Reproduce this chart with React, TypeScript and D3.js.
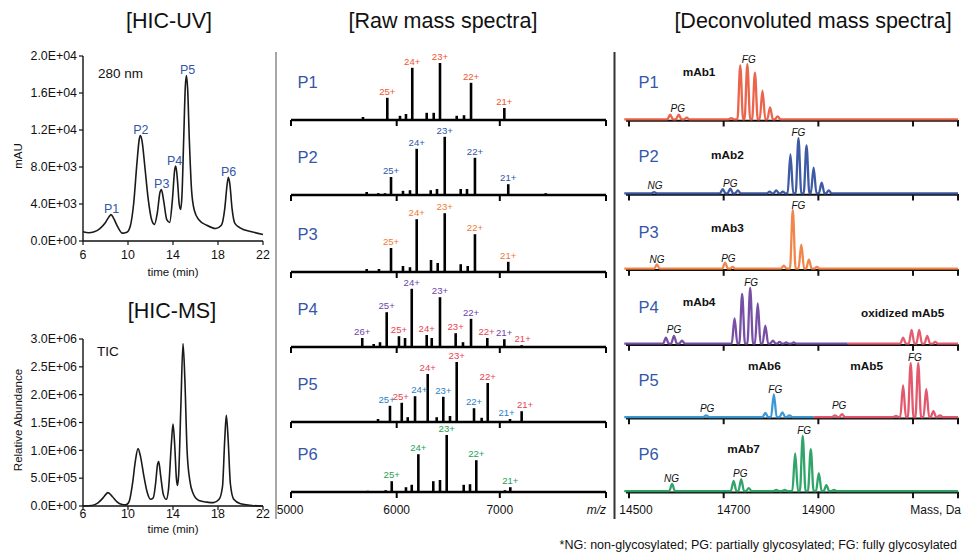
import React from 'react';
import * as d3 from 'd3';

const FONT = '"Liberation Sans", Arial, Helvetica, sans-serif';
const PBLUE = '#3556a8';

// ---------- HIC-UV chromatogram: [time (min), mAU]
const uvTrace: [number, number][] = [
  [6, 1000], [6.5, 900], [7, 1000], [7.5, 1350], [8, 2000], [8.3, 2600], [8.5, 2850], [8.7, 2500], [9.1, 1500],
  [9.5, 850], [9.9, 950], [10.2, 1600], [10.5, 4000], [10.8, 8500], [11.0, 11000], [11.1, 11400], [11.25, 10800],
  [11.5, 8000], [11.8, 4500], [12.1, 2300], [12.35, 1800], [12.6, 3000], [12.85, 5300], [12.97, 5550], [13.15, 4500],
  [13.45, 2300], [13.7, 2000], [13.95, 4500], [14.15, 7700], [14.25, 8100], [14.4, 6500], [14.55, 4000], [14.68, 3400],
  [14.8, 5000], [14.95, 11000], [15.1, 16800], [15.19, 17900], [15.3, 16500], [15.45, 11000], [15.65, 5500],
  [15.9, 3300], [16.3, 2300], [17, 1700], [17.8, 1350], [18.3, 1700], [18.6, 3500], [18.8, 6000], [18.92, 6900],
  [19.05, 6200], [19.25, 3500], [19.5, 1900], [20, 1400], [21, 1000], [22, 700],
];
const uvPeakLabels: [number, number, string][] = [
  [8.55, 2850, 'P1'], [11.15, 11400, 'P2'], [13.0, 5550, 'P3'], [14.15, 8100, 'P4'], [15.3, 17900, 'P5'], [18.95, 6900, 'P6'],
];
const uvTicks = [0, 4000, 8000, 12000, 16000, 20000];

// ---------- HIC-MS TIC: [time (min), abundance in millions]
const ticTrace: [number, number][] = [
  [6, 0], [6.8, 0.01], [7.3, 0.05], [7.8, 0.15], [8.22, 0.24], [8.6, 0.17], [9.0, 0.08], [9.4, 0.03], [9.8, 0.02],
  [10.1, 0.08], [10.4, 0.4], [10.65, 0.8], [10.89, 1.03], [11.1, 0.9], [11.4, 0.55], [11.7, 0.25], [12.0, 0.12],
  [12.25, 0.15], [12.45, 0.4], [12.62, 0.74], [12.73, 0.8], [12.9, 0.55], [13.15, 0.2], [13.4, 0.12], [13.6, 0.3],
  [13.85, 1.1], [14.0, 1.47], [14.15, 1.1], [14.3, 0.5], [14.39, 0.37], [14.5, 0.55], [14.7, 1.8], [14.89, 2.92],
  [15.05, 2.3], [15.25, 1.0], [15.5, 0.45], [15.8, 0.22], [16.3, 0.1], [17, 0.07], [17.6, 0.06], [18.1, 0.12],
  [18.4, 0.35], [18.6, 1.2], [18.74, 1.63], [18.9, 1.2], [19.1, 0.4], [19.4, 0.12], [20, 0.04], [21, 0.01], [22, 0],
];
const ticTicks = [0, 0.5, 1, 1.5, 2, 2.5, 3];
const timeTicks = [6, 10, 14, 18, 22];

// ---------- Raw mass spectra: [m/z, relative intensity, charge label, label group]
type Stick = [number, number, string?, number?];
const rawP1: Stick[] = [[5673, 5], [5909, 37, '25+', 0], [6032, 7], [6090, 10], [6151, 87, '24+', 0], [6291, 12], [6359, 12],
  [6420, 95, '23+', 0], [6582, 7], [6653, 8], [6721, 62, '22+', 0], [7044, 20, '21+', 0]];
const rawP2: Stick[] = [[5709, 5], [5822, 3], [5887, 3], [5945, 30, '25+', 0], [6061, 7], [6129, 8], [6194, 77, '24+', 0],
  [6330, 8], [6391, 10], [6466, 97, '23+', 0], [6621, 10], [6682, 10], [6759, 62, '22+', 0], [7082, 18, '21+', 0], [7445, 3]];
const rawP3: Stick[] = [[5709, 5], [5828, 5], [5945, 40, '25+', 0], [6061, 10], [6129, 8], [6194, 88, '24+', 0], [6333, 20],
  [6398, 15], [6466, 98, '23+', 0], [6621, 13], [6689, 10], [6759, 63, '22+', 0], [7082, 17, '21+', 0]];
const rawP4: Stick[] = [[5666, 15, '26+', 0], [5777, 5], [5838, 8], [5903, 58, '25+', 0], [6022, 18, '25+', 1], [6081, 15],
  [6146, 97, '24+', 0], [6291, 20, '24+', 1], [6340, 15], [6420, 83, '23+', 0], [6572, 23, '23+', 1], [6643, 8],
  [6721, 47, '22+', 0], [6879, 15, '22+', 1], [7044, 13, '21+', 0], [7212, 3, '21+', 1]];
const rawP5: Stick[] = [[5819, 5], [5935, 27, '25+', 0], [6049, 32, '25+', 1], [6107, 8], [6178, 43, '24+', 0],
  [6301, 80, '24+', 1], [6388, 8], [6452, 42, '23+', 0], [6517, 10], [6582, 100, '23+', 1], [6750, 23, '22+', 0],
  [6824, 7], [6883, 65, '22+', 1], [7099, 5, '21+', 0], [7212, 18, '21+', 1]];
const rawP6: Stick[] = [[5719, 2], [5893, 3], [5952, 18, '25+', 0], [6090, 8], [6146, 12], [6210, 63, '24+', 0], [6355, 18],
  [6420, 20], [6485, 95, '23+', 0], [6650, 12], [6711, 13], [6772, 53, '22+', 0], [7050, 3], [7102, 8, '21+', 0]];
const rawRows = [rawP1, rawP2, rawP3, rawP4, rawP5, rawP6];
const rawLabelColors = [['#f0552d'], ['#2f55a8'], ['#f07a35'], ['#6b45a6', '#e8434f'], ['#2a80c8', '#e8434f'], ['#1ea055']];
const mzTicks = [5000, 6000, 7000];
const rowNames = ['P1', 'P2', 'P3', 'P4', 'P5', 'P6'];

// ---------- Deconvoluted spectra: [mass (Da), relative intensity]
const decP1: [number, number][] = [[14587, 8], [14605, 8], [14622, 3], [14716, 2], [14735, 90], [14750, 92], [14766, 78],
  [14782, 48], [14798, 20], [14814, 5]];
const decP2: [number, number][] = [[14553, 2], [14698, 7], [14714, 8], [14730, 5], [14797, 3], [14811, 5], [14825, 3],
  [14841, 65], [14858, 92], [14875, 80], [14890, 43], [14907, 18], [14922, 5]];
const decP3: [number, number][] = [[14559, 7], [14703, 10], [14719, 3], [14827, 5], [14846, 98], [14864, 40], [14880, 15], [14897, 3]];
const decP4a: [number, number][] = [[14578, 10], [14595, 13], [14612, 5], [14723, 42], [14739, 83], [14756, 93], [14772, 67],
  [14788, 30], [14804, 5], [14818, 3], [14832, 2], [14848, 2]];
const decP4b: [number, number][] = [[15079, 10], [15097, 23], [15113, 23], [15130, 13], [15147, 3]];
const decP5a: [number, number][] = [[14663, 3], [14788, 7], [14806, 38], [14824, 8], [14839, 3]];
const decP5b: [number, number][] = [[14935, 3], [14950, 5], [15064, 2], [15079, 53], [15095, 90], [15111, 90], [15128, 47],
  [15143, 10], [15157, 3]];
const decP6: [number, number][] = [[14591, 12], [14721, 17], [14737, 20], [14753, 5], [14811, 2], [14829, 2], [14851, 63],
  [14867, 92], [14884, 70], [14901, 30], [14917, 10], [14933, 2]];
const massTicks = [14500, 14700, 14900, 15100];
const massTickLabels = [14500, 14700, 14900];
// segments: peaks, colour, mass where the colour ends
const decRows: { peaks: [number, number][]; color: string; end: number }[][] = [
  [{ peaks: decP1, color: '#e9573c', end: 15195 }],
  [{ peaks: decP2, color: '#2e4c9c', end: 15195 }],
  [{ peaks: decP3, color: '#f07c3c', end: 15195 }],
  [{ peaks: decP4a, color: '#6b419e', end: 14962 }, { peaks: decP4b, color: '#e05064', end: 15195 }],
  [{ peaks: decP5a, color: '#2a91d0', end: 14890 }, { peaks: decP5b, color: '#e04a60', end: 15195 }],
  [{ peaks: decP6, color: '#1f9c5c', end: 15195 }],
];
// annotations: row, text, mass, level (text centre), kind
const decNotes: [number, string, number, number, string][] = [
  [0, 'mAb1', 14648, 80, 'b'], [0, 'FG', 14753, 101, 'i'], [0, 'PG', 14603, 20, 'i'],
  [1, 'mAb2', 14708, 66, 'b'], [1, 'FG', 14858, 102, 'i'], [1, 'NG', 14555, 14, 'i'], [1, 'PG', 14714, 18, 'i'],
  [2, 'mAb3', 14708, 69, 'b'], [2, 'FG', 14858, 106, 'i'], [2, 'NG', 14559, 17, 'i'], [2, 'PG', 14710, 19, 'i'],
  [3, 'mAb4', 14648, 71, 'b'], [3, 'FG', 14758, 103, 'i'], [3, 'PG', 14595, 25, 'i'], [3, 'oxidized mAb5', 15078, 52, 'b'],
  [4, 'mAb6', 14786, 86, 'b'], [4, 'FG', 14809, 48, 'i'], [4, 'PG', 14665, 15, 'i'], [4, 'mAb5', 15002, 86, 'b'],
  [4, 'FG', 15104, 101, 'i'], [4, 'PG', 14944, 20, 'i'],
  [5, 'mAb7', 14742, 72, 'b'], [5, 'FG', 14870, 102, 'i'], [5, 'PG', 14735, 31, 'i'], [5, 'NG', 14590, 22, 'i'],
];

const fmtE = (v: number) => {
  const [m, e] = v.toExponential(1).split('e');
  return `${m}E${e[0]}${e.slice(1).padStart(2, '0')}`;
};

export default function App() {
  // left column scales
  const tx = d3.scaleLinear().domain([6, 22]).range([83, 263]);
  const uvY = d3.scaleLinear().domain([0, 20000]).range([241, 56]);
  const ticY = d3.scaleLinear().domain([0, 3]).range([506, 339]);
  const uvLine = d3.line<[number, number]>().x(d => tx(d[0])).y(d => uvY(d[1])).curve(d3.curveMonotoneX);
  const ticLine = d3.line<[number, number]>().x(d => tx(d[0])).y(d => ticY(d[1])).curve(d3.curveMonotoneX);

  // middle
  const mzX = d3.scaleLinear().domain([4975, 8030]).range([291, 606]);
  const rawBase = [120, 195, 272, 347, 422, 492];
  const rawH = d3.scaleLinear().domain([0, 100]).range([0, 60]);

  // right
  const massX = d3.scaleLinear().domain([14500, 15195]).range([629, 958]);
  const decBase = [120, 194, 269.3, 344.3, 417.7, 491.7];
  const decH = d3.scaleLinear().domain([0, 100]).range([0, 60]);
  const halfW = 6;

  const chromAxes = (y: d3.ScaleLinear<number, number>, ticks: number[], fmt: (v: number) => string, key: string, labelGap: number) => {
    const y0 = y.range()[0];
    const y1 = y.range()[1];
    return (
      <g key={key} fontFamily={FONT} fill="#111">
        <line x1={83} x2={83} y1={y1} y2={y0} stroke="#111" strokeWidth={1.4} />
        <line x1={83} x2={263} y1={y0} y2={y0} stroke="#111" strokeWidth={1.4} />
        {ticks.map(t => (
          <g key={t}>
            <line x1={79} x2={83} y1={y(t)} y2={y(t)} stroke="#111" strokeWidth={1.2} />
            <text x={77} y={y(t) + 4.3} fontSize={12.4} textAnchor="end">{fmt(t)}</text>
          </g>
        ))}
        {timeTicks.map(t => (
          <g key={'t' + t}>
            <line x1={tx(t)} x2={tx(t)} y1={y0} y2={y0 + 4} stroke="#111" strokeWidth={1.2} />
            <text x={tx(t)} y={y0 + labelGap} fontSize={12.4} textAnchor="middle">{t}</text>
          </g>
        ))}
      </g>
    );
  };

  const segLine = d3.line<[number, number]>().x(d => massX(d[0])).y(d => -decH(d[1])).curve(d3.curveMonotoneX);

  // charge labels with simple collision avoidance
  const rawLabels = rawRows.map((row, i) => {
    const b = rawBase[i];
    const labs = row.filter(s => s[2]).map(([mz, h, lab, g]) => ({
      x: mzX(mz), y: b - rawH(h) - 3, text: lab as string, color: rawLabelColors[i][g || 0],
    })).sort((a, c) => a.x - c.x);
    const w = 18.5;
    for (let k = 0; k < labs.length; k++) {
      for (let j = k + 1; j < labs.length; j++) {
        const dx = labs[j].x - labs[k].x;
        const dy = Math.abs(labs[j].y - labs[k].y);
        if (dx < w && dy < 9) {
          const s = (w - dx) / 2;
          labs[k].x -= s;
          labs[j].x += s;
        }
      }
    }
    return labs;
  });

  return (
    <svg width={965} height={560} style={{ position: 'absolute', left: 0, top: 0, background: '#fff' }} fontFamily={FONT}>
      <rect x={0} y={0} width={965} height={560} fill="#fff" />
      {/* titles */}
      <g fontSize={21.5} fill="#111" textAnchor="middle">
        <text x={169} y={28}>[HIC-UV]</text>
        <text x={443} y={28}>[Raw mass spectra]</text>
        <text x={813} y={28}>[Deconvoluted mass spectra]</text>
        <text x={172} y={318}>[HIC-MS]</text>
      </g>

      {/* HIC-UV */}
      {chromAxes(uvY, uvTicks, fmtE, 'uv', 17.5)}
      <path d={uvLine(uvTrace) || ''} fill="none" stroke="#1a1a1a" strokeWidth={1.6} />
      <text x={98} y={78} fontSize={13.5} fill="#111">280 nm</text>
      {uvPeakLabels.map(([t, v, n]) => (
        <text key={n} x={tx(t)} y={uvY(v) - 1.5} fontSize={12.5} fill={PBLUE} textAnchor="middle">{n}</text>
      ))}
      <text x={173} y={276} fontSize={11.5} textAnchor="middle" fill="#111">time (min)</text>
      <text transform="translate(22,156) rotate(-90)" fontSize={11.5} textAnchor="middle" fill="#111">mAU</text>

      {/* HIC-MS */}
      {chromAxes(ticY, ticTicks, v => fmtE(v * 1e6), 'tic', 12)}
      <path d={ticLine(ticTrace) || ''} fill="none" stroke="#1a1a1a" strokeWidth={1.6} />
      <text x={97} y={356} fontSize={13.5} fill="#111">TIC</text>
      <text x={173} y={533} fontSize={11.5} textAnchor="middle" fill="#111">time (min)</text>
      <text transform="translate(22,420) rotate(-90)" fontSize={11.5} textAnchor="middle" fill="#111">Relative Abundance</text>

      {/* dividers */}
      <line x1={276} x2={276} y1={52} y2={519} stroke="#8a8a8a" strokeWidth={1.5} />
      <line x1={614.5} x2={614.5} y1={52} y2={519} stroke="#333" strokeWidth={2} />

      {/* raw spectra */}
      {rawRows.map((row, i) => {
        const b = rawBase[i];
        const ends = mzX.domain();
        return (
          <g key={'raw' + i}>
            <text x={307.5} y={b - 31.7} fontSize={16.5} fill={PBLUE} textAnchor="middle">{rowNames[i]}</text>
            {row.map(([mz, h], k) => (
              <line key={k} x1={mzX(mz)} x2={mzX(mz)} y1={b} y2={b - rawH(h)} stroke="#000" strokeWidth={2.6} />
            ))}
            <line x1={mzX(ends[0])} x2={mzX(ends[1])} y1={b} y2={b} stroke="#000" strokeWidth={2.6} />
            {[ends[0], 6000, 7000, ends[1]].map(t => (
              <line key={t} x1={mzX(t)} x2={mzX(t)} y1={b} y2={b + 6} stroke="#000" strokeWidth={2} />
            ))}
            {rawLabels[i].map((l, k) => (
              <text key={'l' + k} x={l.x} y={l.y} fontSize={9.6} textAnchor="middle" fill={l.color}>{l.text}</text>
            ))}
          </g>
        );
      })}
      {mzTicks.map(t => (
        <text key={t} x={mzX(t) - (t === 5000 ? 3.5 : 0)} y={513.5} fontSize={12} textAnchor="middle" fill="#111">{t}</text>
      ))}
      <text x={606} y={513.5} fontSize={12} fontStyle="italic" textAnchor="end" fill="#111">m/z</text>

      {/* deconvoluted spectra */}
      {decRows.map((segs, i) => {
        const b = decBase[i];
        let start = massX.domain()[0] - 10;
        return (
          <g key={'dec' + i}>
            <text x={648.5} y={b - 31.7} fontSize={16.5} fill={PBLUE} textAnchor="middle">{rowNames[i]}</text>
            <line x1={626} x2={958} y1={b + 0.8} y2={b + 0.8} stroke="#111" strokeWidth={2} />
            {[...massTicks, massX.domain()[1]].map(t => (
              <line key={t} x1={massX(t)} x2={massX(t)} y1={b} y2={b + 6.5} stroke="#111" strokeWidth={2} />
            ))}
            {segs.map((s, k) => {
              const pts: [number, number][] = [[start, 0]];
              s.peaks.forEach(([m, h]) => { pts.push([m - halfW, 0], [m, h], [m + halfW, 0]); });
              pts.push([s.end, 0]);
              start = s.end;
              return (
                <path key={k} transform={`translate(0,${b - 0.6})`} d={segLine(pts) || ''} fill="none"
                  stroke={s.color} strokeWidth={2.3} strokeLinejoin="round" strokeOpacity={0.92} />
              );
            })}
          </g>
        );
      })}
      {decNotes.map(([r, text, m, lvl, kind], k) => (
        <text key={'n' + k} x={massX(m)} y={decBase[r] - decH(lvl) + (kind === 'b' ? 4.2 : 3.6)}
          fontSize={kind === 'b' ? 11.8 : 10} fontWeight={kind === 'b' ? 'bold' : 'normal'}
          fontStyle={kind === 'i' ? 'italic' : 'normal'} textAnchor="middle" fill="#111">{text}</text>
      ))}
      {massTickLabels.map(t => (
        <text key={t} x={massX(t) + (t === 14500 ? 7 : t === 14700 ? 10 : 0)} y={513.5} fontSize={12} textAnchor="middle" fill="#111">{t}</text>
      ))}
      <text x={961} y={513.5} fontSize={12} textAnchor="end" fill="#111">Mass, Da</text>

      <text x={957} y={549} fontSize={12.5} textAnchor="end" fill="#111">
        *NG: non-glycosylated; PG: partially glycosylated; FG: fully glycosylated
      </text>
    </svg>
  );
}
